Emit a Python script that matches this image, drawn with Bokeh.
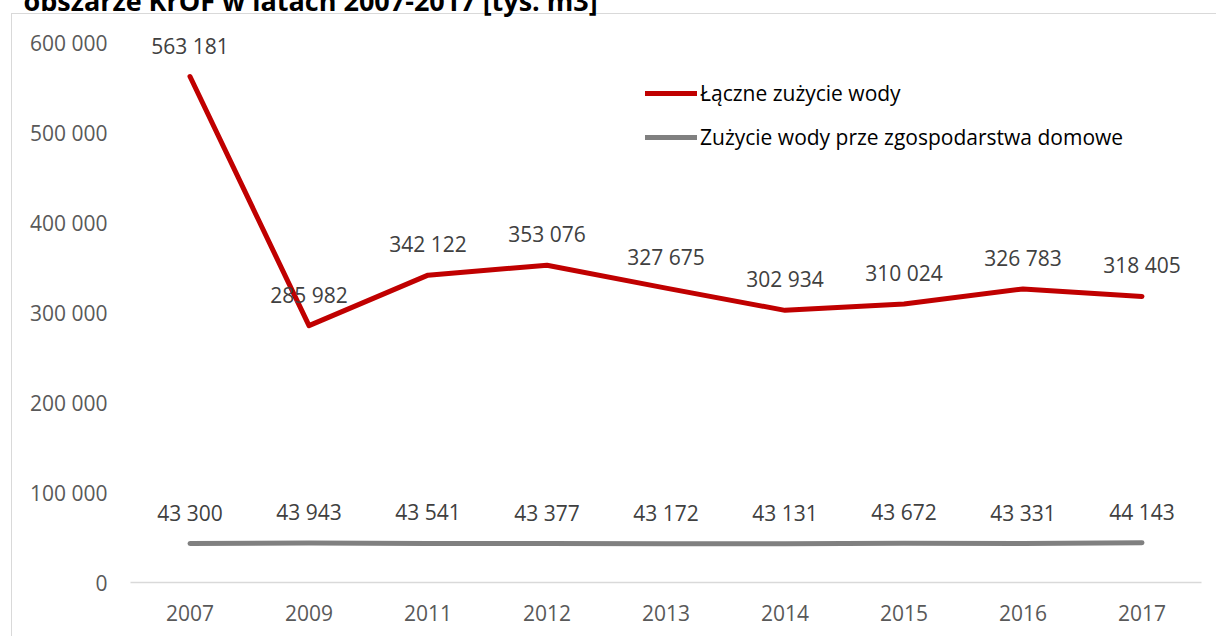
from bokeh.plotting import figure
from bokeh.models import (ColumnDataSource, LabelSet, Legend, LegendItem,
                          FixedTicker, FactorRange, Range1d)
from bokeh.core.properties import value
from bokeh.embed import file_html
from bokeh.resources import INLINE

years = ["2007", "2009", "2011", "2012", "2013", "2014", "2015", "2016", "2017"]
total_use = [563181, 285982, 342122, 353076, 327675, 302934, 310024, 326783, 318405]
household_use = [43300, 43943, 43541, 43377, 43172, 43131, 43672, 43331, 44143]
y_ticks = [0, 100000, 200000, 300000, 400000, 500000, 600000]
series_names = ["Łączne zużycie wody", "Zużycie wody prze zgospodarstwa domowe"]
title_text = "obszarze KrOF w latach 2007-2017 [tys. m3]"

FONT = "Open Sans"
FS = "21px"
SHIFT = 23  # page is cropped at the top, like the reference


def fmt(v):
    return f"{v:,}".replace(",", " ")


src = ColumnDataSource(dict(
    x=years,
    total=total_use,
    house=household_use,
    total_lbl=[fmt(v) for v in total_use],
    house_lbl=[fmt(v) for v in household_use],
))

p = figure(
    width=1216, height=636 + SHIFT,
    x_range=FactorRange(*years, range_padding=0),
    y_range=Range1d(0, 625556),
    output_backend="svg", toolbar_location=None,
    min_border_left=130, min_border_right=15, min_border_top=42, min_border_bottom=54,
    title=title_text,
)
p.margin = (-SHIFT, 0, 0, 0)
p.outline_line_color = None
p.background_fill_color = None
p.border_fill_color = None
# chart-area border (light grey frame)
p.styles = {
    "background-color": "white",
    "background-image": "linear-gradient(#d9d9d9, #d9d9d9), linear-gradient(#d9d9d9, #d9d9d9)",
    "background-size": "1px 100%, 100% 1px",
    "background-position": f"11px {13 + SHIFT}px, 11px {13 + SHIFT}px",
    "background-repeat": "no-repeat",
}
p.title.align = "left"
p.title.offset = -107
p.title.standoff = 4
p.title.text_font = FONT
p.title.text_font_style = "bold"
p.title.text_font_size = "27px"
p.title.text_color = "#000000"

p.xgrid.grid_line_color = None
p.ygrid.grid_line_color = None

r_total = p.line("x", "total", source=src, line_color="#c00000", line_width=5,
                 line_cap="round", line_join="round")
r_house = p.line("x", "house", source=src, line_color="#808080", line_width=5,
                 line_cap="round", line_join="round")

for col in ["total_lbl", "house_lbl"]:
    ycol = "total" if col == "total_lbl" else "house"
    p.add_layout(LabelSet(x="x", y=ycol, text=col, source=src, y_offset=31,
                          text_align="center", text_baseline="middle",
                          text_font=value(FONT), text_font_size=FS,
                          text_color="#404040"))

# axes
p.yaxis.ticker = FixedTicker(ticks=y_ticks)
p.yaxis.major_label_overrides = {t: fmt(t) for t in y_ticks}
p.yaxis.axis_line_color = None
p.yaxis.major_tick_line_color = None
p.yaxis.minor_tick_line_color = None
p.yaxis.major_label_standoff = 17
p.yaxis.major_label_text_font = FONT
p.yaxis.major_label_text_font_size = FS
p.yaxis.major_label_text_color = "#595959"

p.xaxis.axis_line_color = "#d9d9d9"
p.xaxis.axis_line_width = 1.5
p.xaxis.major_tick_line_color = None
p.xaxis.minor_tick_line_color = None
p.xaxis.major_label_standoff = 16
p.xaxis.major_label_text_font = FONT
p.xaxis.major_label_text_font_size = FS
p.xaxis.major_label_text_color = "#595959"

legend = Legend(items=[LegendItem(label=series_names[0], renderers=[r_total]),
                       LegendItem(label=series_names[1], renderers=[r_house])],
                location=(515, 430), orientation="vertical",
                padding=0, margin=0, spacing=14,
                glyph_width=52, glyph_height=30, label_height=30,
                label_standoff=3,
                label_text_font=FONT, label_text_font_size=FS,
                label_text_color="#000000",
                border_line_color=None, background_fill_color=None,
                background_fill_alpha=0)
p.add_layout(legend)

open("out.html", "w").write(file_html(p, INLINE))
